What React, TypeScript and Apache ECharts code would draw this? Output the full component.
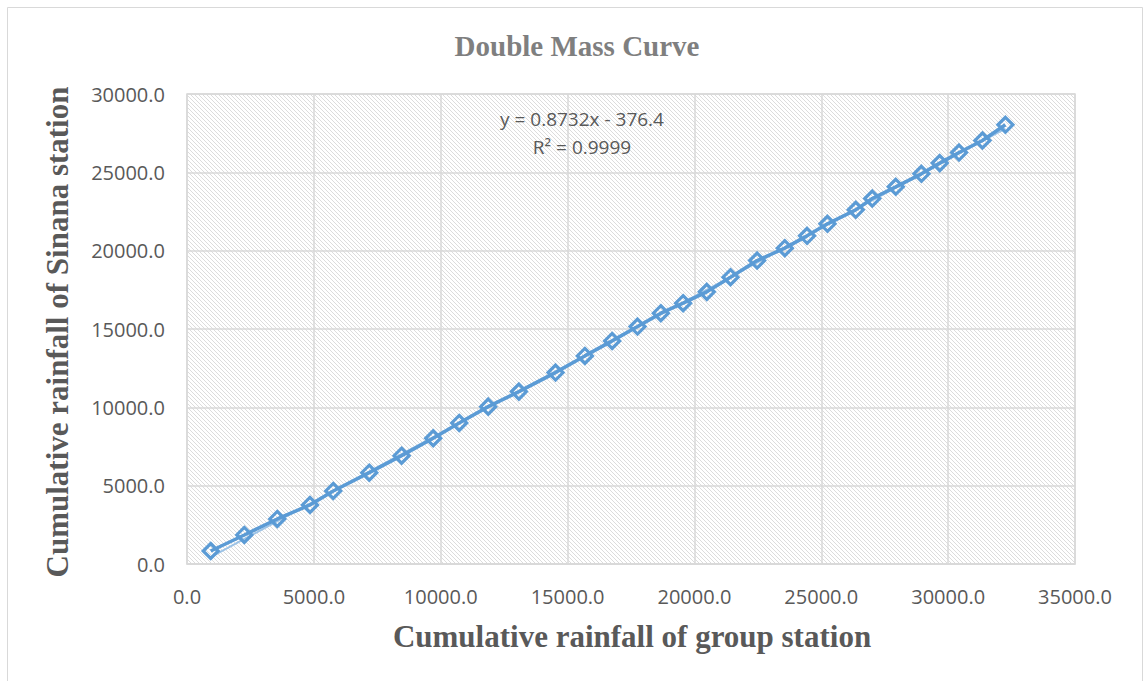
import React, { useEffect, useRef } from "react";
import * as echarts from "echarts";

const groupCum = [934, 2258, 3558, 4846, 5764, 7183, 8459, 9704, 10729, 11871, 13081, 14527, 15681, 16757, 17758, 18676, 19554, 20488, 21422, 22470, 23561, 24440, 25244, 26359, 27009, 27935, 28947, 29668, 30429, 31351, 32257];
const sinanaCum = [830, 1852, 2874, 3768, 4662, 5830, 6916, 8027, 9004, 10045, 11003, 12217, 13283, 14241, 15154, 16010, 16648, 17370, 18309, 19369, 20161, 20946, 21712, 22606, 23328, 24075, 24905, 25588, 26265, 27032, 28034];
const trendSlope = 0.8732;
const trendIntercept = -376.4;
const equationLines = ["y = 0.8732x - 376.4", "R² = 0.9999"];
const chartTitle = "Double Mass Curve";
const xTitle = "Cumulative rainfall of group station";
const yTitle = "Cumulative rainfall of Sinana station";

function makeHatch(): HTMLCanvasElement {
  const c = document.createElement("canvas");
  c.width = 4;
  c.height = 4;
  const ctx = c.getContext("2d")!;
  ctx.fillStyle = "#ffffff";
  ctx.fillRect(0, 0, 4, 4);
  ctx.fillStyle = "#dcdcdc";
  for (let i = 0; i < 4; i++) ctx.fillRect(i, i, 1, 1);
  return c;
}

export default function App() {
  const ref = useRef<HTMLDivElement>(null);
  useEffect(() => {
    if (!ref.current) return;
    const chart = echarts.init(ref.current, undefined, { renderer: "svg" });
    const points = groupCum.map((x, i) => [x, sinanaCum[i]]);
    const xMin = groupCum[0];
    const xMax = groupCum[groupCum.length - 1];
    const trend = [
      [xMin, trendSlope * xMin + trendIntercept],
      [xMax, trendSlope * xMax + trendIntercept],
    ];
    const labelStyle = { color: "#595959", fontSize: 20, fontFamily: "Open Sans" };
    chart.setOption({
      animation: false,
      backgroundColor: "#ffffff",
      grid: {
        left: 187,
        right: 69,
        top: 94,
        bottom: 117,
        show: true,
        borderColor: "#d9d9d9",
        borderWidth: 1.5,
        backgroundColor: { image: makeHatch(), repeat: "repeat", imageWidth: 4, imageHeight: 4 },
      },
      xAxis: {
        type: "value",
        min: 0,
        max: 35000,
        interval: 5000,
        axisLine: { show: true, lineStyle: { color: "#d9d9d9", width: 1.5 } },
        axisTick: { show: false },
        splitLine: { show: true, lineStyle: { color: "#d9d9d9", width: 1.5 } },
        axisLabel: { ...labelStyle, margin: 22, formatter: (v: number) => v.toFixed(1) },
      },
      yAxis: {
        type: "value",
        min: 0,
        max: 30000,
        interval: 5000,
        axisLine: { show: false },
        axisTick: { show: false },
        splitLine: { show: true, lineStyle: { color: "#d9d9d9", width: 1.5 } },
        axisLabel: { ...labelStyle, margin: 22, formatter: (v: number) => v.toFixed(1) },
      },
      series: [
        {
          type: "line",
          data: trend,
          symbol: "none",
          lineStyle: { color: "#9dc3e6", width: 2 },
          z: 1,
        },
        {
          type: "line",
          data: points,
          symbol: "diamond",
          symbolSize: 15,
          itemStyle: { color: "rgba(255,255,255,0)", borderColor: "#5b9bd5", borderWidth: 3.2 },
          lineStyle: { color: "#5b9bd5", width: 3.5 },
          z: 2,
        },
      ],
      graphic: [
        {
          type: "rect",
          shape: { x: 7.5, y: 7.5, width: 1135, height: 690 },
          style: { fill: "none", stroke: "#d9d9d9", lineWidth: 1 },
          silent: true,
        },
        {
          type: "text",
          x: 577,
          y: 46,
          style: {
            text: chartTitle,
            fill: "#7f7f7f",
            font: "bold 29px 'Liberation Serif', 'Times New Roman', serif",
            align: "center",
            verticalAlign: "middle",
          },
        },
        {
          type: "text",
          x: 632,
          y: 636,
          style: {
            text: xTitle,
            fill: "#595959",
            font: "bold 31px 'Liberation Serif', 'Times New Roman', serif",
            align: "center",
            verticalAlign: "middle",
          },
        },
        {
          type: "text",
          x: 57,
          y: 332,
          rotation: Math.PI / 2,
          style: {
            text: yTitle,
            fill: "#595959",
            font: "bold 31px 'Liberation Serif', 'Times New Roman', serif",
            align: "center",
            verticalAlign: "middle",
          },
        },
        {
          type: "text",
          x: 582,
          y: 119,
          style: {
            text: equationLines[0],
            fill: "#595959",
            font: "19px 'Open Sans'",
            align: "center",
            verticalAlign: "middle",
          },
        },
        {
          type: "text",
          x: 582,
          y: 147,
          style: {
            text: equationLines[1],
            fill: "#595959",
            font: "19px 'Open Sans'",
            align: "center",
            verticalAlign: "middle",
          },
        },
      ],
    });
    return () => chart.dispose();
  }, []);
  return (
    <div
      ref={ref}
      style={{ position: "absolute", left: 0, top: 0, width: 1144, height: 681 }}
    />
  );
}
